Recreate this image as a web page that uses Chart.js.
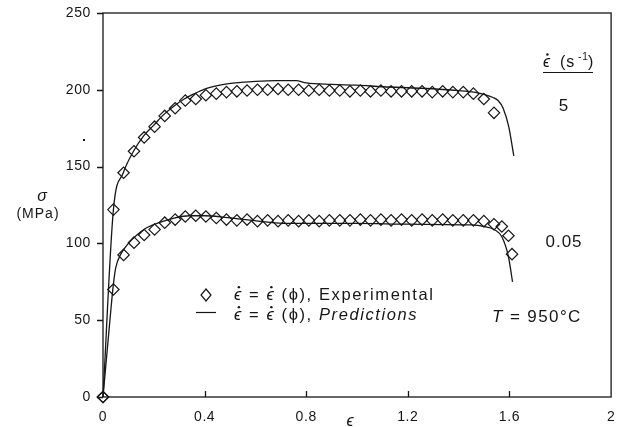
<!DOCTYPE html>
<html lang="en">
<head>
<meta charset="UTF-8">
<title>Flow stress vs strain, T = 950°C</title>
<script src="https://cdn.jsdelivr.net/npm/chart.js"></script>
<style>
    html, body { margin: 0; padding: 0; background: #fff; }
    #wrap { width: 618px; height: 427px; }
</style>
</head>
<body>
<div id="wrap"><canvas id="flowChart" width="618" height="427"></canvas></div>
<script>
    // strain where the diamonds sit
    const strainExp = [0, 0.041, 0.081, 0.122, 0.162, 0.203, 0.243, 0.284, 0.324, 0.365,
        0.405, 0.446, 0.486, 0.527, 0.567, 0.608, 0.648, 0.689, 0.729, 0.770,
        0.810, 0.851, 0.891, 0.932, 0.972, 1.013, 1.053, 1.094, 1.134, 1.175,
        1.215, 1.256, 1.296, 1.337, 1.377, 1.418, 1.458, 1.499, 1.539];
    const strainExpTail005 = [1.570, 1.596, 1.610];

    // experimental stress (MPa)
    const exp5 = [0, 122, 146, 160, 169, 176, 183, 188, 193, 194,
        196.5, 197.5, 198.5, 199, 199.5, 200, 200, 200.5, 200, 200,
        199.5, 200, 199.5, 199.5, 199, 199.5, 199, 199.5, 199, 199,
        199, 199, 198.5, 199, 198.5, 198.5, 197.5, 194, 185];
    const exp005 = [0, 70, 92.5, 100.5, 105.5, 109, 113.5, 115.5, 117.5, 118,
        117.5, 116.5, 115.5, 115, 115.5, 114.5, 115, 114.5, 115, 114.5,
        115, 114.5, 115, 115, 115, 115.5, 115, 115.5, 115, 115.5,
        115, 115.5, 115, 115.5, 115, 115, 115, 114.5, 112.5, 111, 105, 93];

    // model predictions
    const strainPred5 = [0, 0.041, 0.08, 0.12, 0.16, 0.20, 0.24, 0.28, 0.32, 0.36, 0.40, 0.46,
        0.52, 0.60, 0.68, 0.76, 0.80, 0.90, 1.00, 1.10, 1.25, 1.40, 1.46, 1.50, 1.535,
        1.555, 1.575, 1.597, 1.617];
    const pred5 = [0, 122, 146, 160, 170, 177, 184, 189.5, 194, 197.5, 200.5, 203,
        204.5, 205.5, 206, 206, 204.5, 203.5, 203, 202, 201, 199.5, 198.5, 197, 195,
        193, 188, 176, 157];
    const strainPred005 = [0, 0.03, 0.04, 0.05, 0.07, 0.10, 0.13, 0.17, 0.22, 0.28, 0.34, 0.40,
        0.48, 0.56, 0.64, 0.72, 0.85, 1.00, 1.20, 1.45, 1.50, 1.543, 1.570, 1.596, 1.612];
    const pred005 = [0, 55, 72, 84, 93, 100, 105, 110, 113.5, 116.5, 118, 118,
        117, 115.5, 114, 113, 113, 113, 112.5, 112, 111, 108.7, 104.3, 91.3, 75];

    const xTicks = [0, 0.4, 0.8, 1.2, 1.6, 2];
    const yTicks = [0, 50, 100, 150, 200, 250];
    const rateLabels = ['5', '0.05'];

    const INK = '#161616';
    const SANS = '"Liberation Sans", "DejaVu Sans", Arial, sans-serif';

    function pairs(xs, ys) {
        return xs.map((x, i) => ({ x: x, y: ys[i] }));
    }

    // italic epsilon with a dot on top (combining dot lands badly in canvas)
    function epsDot(ctx, x, yBase, size) {
        ctx.font = 'italic ' + size + 'px ' + SANS;
        ctx.fillText('\u03F5', x, yBase);
        const w = ctx.measureText('\u03F5').width;
        ctx.beginPath();
        ctx.arc(x + w * 0.55, yBase - size * 0.78, size * 0.075, 0, Math.PI * 2);
        ctx.fill();
        return w;
    }

    function drawRuns(ctx, x0, yBase, runs, size) {
        let cx = x0;
        runs.forEach(r => {
            if (r[0] === 'epsdot') {
                cx += epsDot(ctx, cx, yBase, size);
                return;
            }
            ctx.font = (r[0] ? r[0] + ' ' : '') + size + 'px ' + SANS;
            ctx.fillText(r[1], cx, yBase);
            cx += ctx.measureText(r[1]).width;
        });
    }

    // frame, ticks and all the annotation text
    const decorations = {
        id: 'decorations',
        beforeDraw(chart) {
            chart.ctx.letterSpacing = '0.6px';
        },
        afterDraw(chart) {
            const ctx = chart.ctx;
            const a = chart.chartArea;
            const x = chart.scales.x, y = chart.scales.y;
            ctx.save();
            ctx.strokeStyle = INK;
            ctx.lineWidth = 1.3;
            ctx.strokeRect(a.left, a.top, a.right - a.left, a.bottom - a.top);

            ctx.beginPath();
            yTicks.forEach(v => {
                const py = Math.round(y.getPixelForValue(v)) + 0.5;
                ctx.moveTo(a.left - 6, py);
                ctx.lineTo(a.left, py);
            });
            xTicks.slice(1, -1).forEach(v => {
                const px = Math.round(x.getPixelForValue(v)) + 0.5;
                ctx.moveTo(px, a.bottom);
                ctx.lineTo(px, a.bottom - 6);
            });
            ctx.stroke();

            ctx.fillStyle = INK;
            ctx.textBaseline = 'alphabetic';

            // stray speck in the scan
            ctx.fillRect(83, 139, 2, 2);

            // y axis title
            ctx.textAlign = 'center';
            ctx.letterSpacing = '0px';
            ctx.font = 'italic 16px ' + SANS;
            ctx.fillText('\u03C3', 42, 201);
            ctx.letterSpacing = '1px';
            ctx.font = '14px ' + SANS;
            ctx.fillText('(MPa)', 38, 218);

            // x axis title
            ctx.letterSpacing = '0px';
            ctx.font = 'italic 16px ' + SANS;
            ctx.fillText('\u03F5', 350, 426);

            // strain-rate header and curve labels
            ctx.textAlign = 'left';
            ctx.letterSpacing = '1px';
            epsDot(ctx, 543, 67, 16);
            ctx.font = '16px ' + SANS;
            ctx.fillText('(s', 560, 67);
            ctx.font = '10px ' + SANS;
            ctx.fillText('-1', 578, 60);
            ctx.font = '16px ' + SANS;
            ctx.fillText(')', 588, 67);
            ctx.beginPath();
            ctx.lineWidth = 1;
            ctx.moveTo(543, 72.5);
            ctx.lineTo(593, 72.5);
            ctx.stroke();

            ctx.textAlign = 'center';
            ctx.font = '17px ' + SANS;
            ctx.fillText(rateLabels[0], 564, 111);
            ctx.fillText(rateLabels[1], 564, 247);

            // legend
            ctx.lineWidth = 1.2;
            ctx.beginPath();
            ctx.moveTo(206, 289);
            ctx.lineTo(211, 295);
            ctx.lineTo(206, 301);
            ctx.lineTo(201, 295);
            ctx.closePath();
            ctx.stroke();
            ctx.beginPath();
            ctx.moveTo(196, 312.5);
            ctx.lineTo(216, 312.5);
            ctx.stroke();

            ctx.textAlign = 'left';
            ctx.letterSpacing = '1.6px';
            drawRuns(ctx, 234, 300, [
                ['epsdot'], ['', ' = '], ['epsdot'], ['', ' (\u03D5), Experimental']
            ], 16.5);
            drawRuns(ctx, 234, 320, [
                ['epsdot'], ['', ' = '], ['epsdot'], ['', ' (\u03D5), '], ['italic', 'Predictions']
            ], 16.5);
            ctx.letterSpacing = '1.4px';
            drawRuns(ctx, 492, 322, [
                ['italic', 'T'], ['', ' = 950\u00B0C']
            ], 17);
            ctx.restore();
        }
    };

    const lineStyle = {
        showLine: true,
        pointRadius: 0,
        borderColor: INK,
        borderWidth: 1.3,
        cubicInterpolationMode: 'monotone',
        clip: false
    };
    const diamondStyle = {
        showLine: false,
        pointStyle: 'rectRot',
        pointRadius: 5.7,
        pointBorderWidth: 1.2,
        borderColor: INK,
        backgroundColor: 'rgba(255,255,255,0)',
        clip: false
    };

    const ctx = document.getElementById('flowChart').getContext('2d');
    const chart = new Chart(ctx, {
        type: 'scatter',
        data: {
            datasets: [
                Object.assign({ label: 'Predictions 5', data: pairs(strainPred5, pred5) }, lineStyle),
                Object.assign({ label: 'Predictions 0.05', data: pairs(strainPred005, pred005) }, lineStyle),
                Object.assign({ label: 'Experimental 5', data: pairs(strainExp, exp5) }, diamondStyle),
                Object.assign({ label: 'Experimental 0.05', data: pairs(strainExp.concat(strainExpTail005), exp005) }, diamondStyle)
            ]
        },
        options: {
            responsive: false,
            animation: false,
            layout: { padding: { top: 13, right: 5, left: 0, bottom: 0 } },
            plugins: {
                legend: { display: false },
                tooltip: { enabled: false }
            },
            scales: {
                x: {
                    type: 'linear',
                    min: 0,
                    max: 2,
                    afterFit(s) {
                        s.height = 30;
                        s.paddingLeft = 0;
                        s.paddingRight = 0;
                    },
                    afterBuildTicks(s) { s.ticks = xTicks.map(v => ({ value: v })); },
                    grid: { display: false, drawTicks: false },
                    border: { display: false },
                    ticks: {
                        padding: 12,
                        color: INK,
                        font: { family: SANS, size: 14 },
                        maxRotation: 0,
                        callback: v => String(v)
                    }
                },
                y: {
                    type: 'linear',
                    min: 0,
                    max: 250,
                    afterFit(s) {
                        s.width = 103;
                        s.paddingTop = 0;
                        s.paddingBottom = 0;
                    },
                    afterBuildTicks(s) { s.ticks = yTicks.map(v => ({ value: v })); },
                    grid: { display: false, drawTicks: false },
                    border: { display: false },
                    ticks: {
                        padding: 12,
                        color: INK,
                        font: { family: SANS, size: 14 },
                        callback: v => String(v)
                    }
                }
            }
        },
        plugins: [decorations]
    });
</script>
</body>
</html>
